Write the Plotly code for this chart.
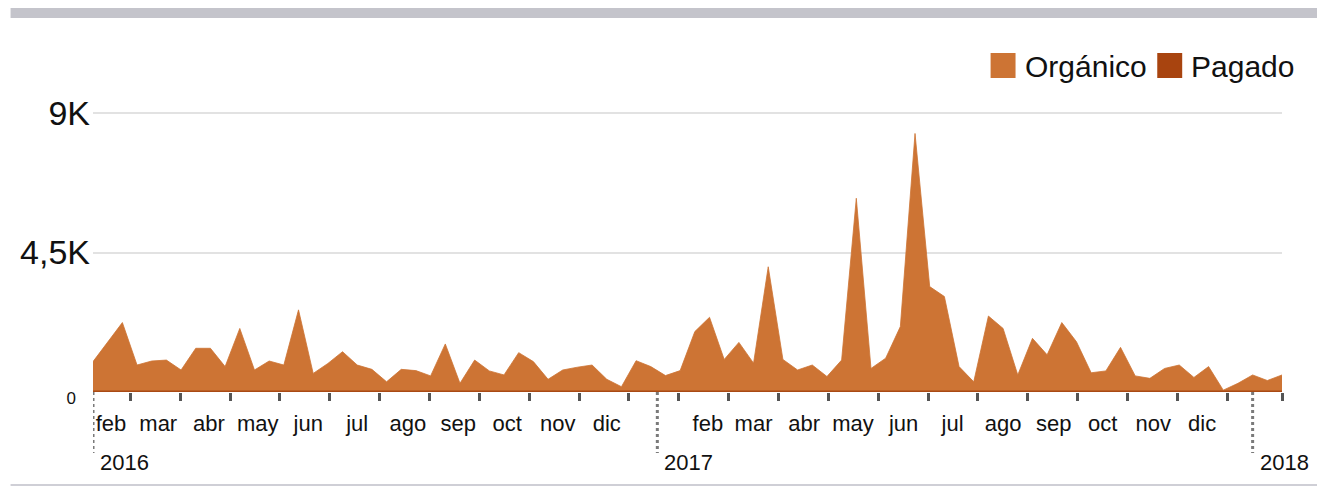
import pandas as pd
import plotly.graph_objects as go

# ---- data ----
start_date = "2016-01-21"
step_days = 9
organico = [980, 1610, 2240, 870, 1000, 1030, 710, 1410, 1410, 820, 2050, 710, 1000, 870,
            2650, 600, 920, 1300, 870, 730, 330, 730, 690, 520, 1550, 280, 1030, 680, 550,
            1270, 980, 410, 710, 800, 870, 410, 170, 1010, 820, 530, 690, 1950, 2410, 1050,
            1600, 930, 4040, 1050, 710, 870, 500, 1030, 6250, 760, 1090, 2110, 8340, 3400,
            3080, 820, 330, 2450, 2050, 550, 1730, 1200, 2240, 1620, 620, 680, 1440, 520,
            440, 760, 870, 470, 820, 60, 280, 550, 370, 550]
pagado = [0] * len(organico)
month_dates = ["2016-02-01", "2016-03-01", "2016-04-01", "2016-05-01", "2016-06-01", "2016-07-01",
               "2016-08-01", "2016-09-01", "2016-10-01", "2016-11-01", "2016-12-01",
               "2017-02-01", "2017-03-01", "2017-04-01", "2017-05-01", "2017-06-01", "2017-07-01",
               "2017-08-01", "2017-09-01", "2017-10-01", "2017-11-01", "2017-12-01"]
month_names = ["feb", "mar", "abr", "may", "jun", "jul", "ago", "sep", "oct", "nov", "dic",
               "feb", "mar", "abr", "may", "jun", "jul", "ago", "sep", "oct", "nov", "dic"]
year_labels = ["2016", "2017", "2018"]
year_dates = ["2016-01-21", "2017-01-01", "2018-01-01"]
y_tickvals = [0, 4500, 9000]
y_ticktext = ["<span style='font-size:17px'>0\u00a0\u00a0\u00a0</span>", "4,5K", "9K"]
series_names = ["Orgánico", "Pagado"]
series_colors = ["#cd7434", "#a8440f"]

dates = pd.date_range(start=start_date, periods=len(organico), freq=f"{step_days}D")
x_start, x_end = dates[0], dates[-1]

# the page body adds an 8px offset; geometry below is in page pixels
OFF = 8
W, H = 1325 - OFF, 489 - OFF
L, R, T, B = 90.6 - OFF, 1282 - OFF, 82 - OFF, 392 - OFF


def px(xp):
    return (xp - OFF - L) / (R - L)


def py(yp):
    return (B - (yp - OFF)) / (B - T)


fig = go.Figure()
fig.add_trace(go.Scatter(x=dates, y=organico, name=series_names[0], mode="lines",
                         fill="tozeroy", fillcolor=series_colors[0],
                         line=dict(color=series_colors[0], width=0.8), showlegend=False))
fig.add_trace(go.Scatter(x=dates, y=pagado, name=series_names[1], mode="lines",
                         line=dict(color="#a94a14", width=3), showlegend=False))

# minor tick positions (~every 30.6 days)
first_tick = x_start + pd.Timedelta(days=22.9)
minor_vals = [first_tick + pd.Timedelta(days=30.57 * i) for i in range(23)] + [x_end]

shapes = []
annotations = []
for lab, d in zip(year_labels, year_dates):
    shapes.append(dict(type="line", xref="x", yref="paper", x0=d, x1=d, y0=0, y1=py(453),
                       line=dict(color="#7a7a7a", width=3, dash="dot")))
    annotations.append(dict(xref="x", yref="paper", x=d, y=py(462), text=lab, showarrow=False,
                            xanchor="left", yanchor="middle", xshift=5,
                            font=dict(family="Liberation Sans, Arial", size=22, color="#111")))

# top grey band and bottom rule
shapes.append(dict(type="rect", xref="paper", yref="paper", x0=px(8), x1=px(1322),
                   y0=py(18), y1=py(8), line=dict(width=0), fillcolor="#c4c4cb"))
shapes.append(dict(type="line", xref="paper", yref="paper", x0=px(8), x1=px(1322),
                   y0=py(485), y1=py(485), line=dict(color="#cfcfd6", width=2)))

# manual legend
leg = [(990, 1022), (1157, 1189)]
for (sx, tx), name, col in zip(leg, series_names, series_colors):
    shapes.append(dict(type="rect", xref="paper", yref="paper", x0=px(sx), x1=px(sx + 25),
                       y0=py(78), y1=py(53), line=dict(width=0), fillcolor=col))
    annotations.append(dict(xref="paper", yref="paper", x=px(tx), y=py(66), text=name,
                            showarrow=False, xanchor="left", yanchor="middle",
                            font=dict(family="Liberation Sans, Arial", size=30, color="#111")))

fig.update_layout(
    width=W, height=H,
    margin=dict(l=L, r=W - R, t=T, b=H - B, pad=0),
    paper_bgcolor="white", plot_bgcolor="white",
    shapes=shapes, annotations=annotations,
    showlegend=False,
    font=dict(family="Liberation Sans, Arial", color="#111"),
    xaxis=dict(type="date", range=[x_start, x_end], tickmode="array", tickvals=month_dates,
               ticktext=month_names, ticks="", showgrid=False, zeroline=False, showline=False,
               tickfont=dict(size=22, color="#111"), ticklabelstandoff=16,
               minor=dict(tickmode="array", tickvals=minor_vals, ticks="outside", ticklen=8,
                          tickwidth=3, tickcolor="#555555", showgrid=False)),
    yaxis=dict(range=[0, 10000], tickmode="array", tickvals=y_tickvals, ticktext=y_ticktext,
               showgrid=True, gridcolor="#e2e2e2", gridwidth=2, zeroline=False, showline=False,
               ticks="", tickfont=dict(size=34, color="#111"), ticklabelstandoff=2),
)

fig.write_html("out.html")
